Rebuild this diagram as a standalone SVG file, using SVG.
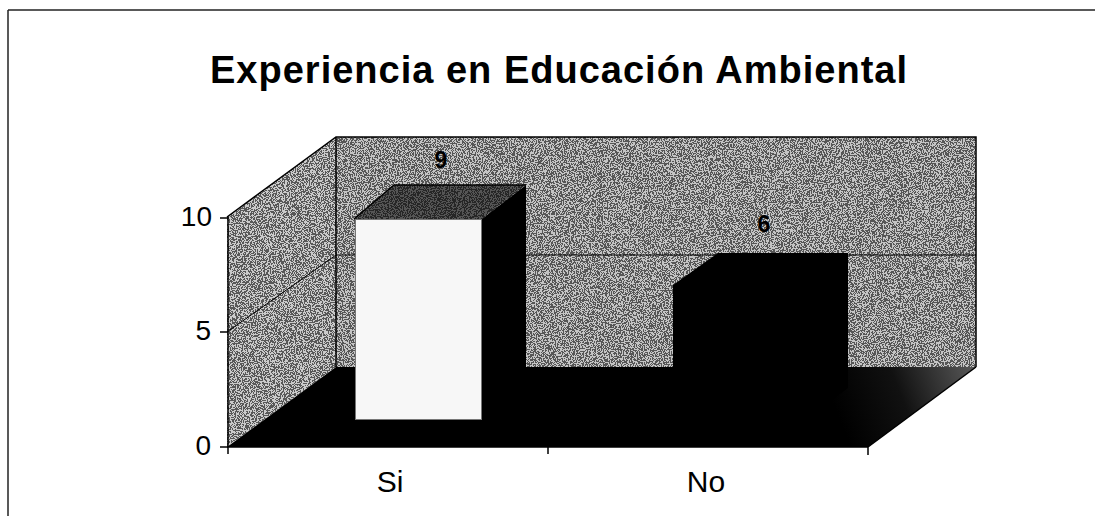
<svg xmlns="http://www.w3.org/2000/svg" width="1095" height="516" viewBox="0 0 1095 516">
  <style>
    .edge { fill: none; stroke: #000; stroke-width: 1.5; }
    .grid { fill: none; stroke: #000; stroke-width: 1; }
    .axis { fill: none; stroke: #000; stroke-width: 1.5; }
    .num { font-family: "Liberation Sans", Arial, sans-serif; font-size: 28px; fill: #000; text-anchor: end; }
    .cat { font-family: "Liberation Sans", Arial, sans-serif; font-size: 30px; fill: #000; text-anchor: middle; }
    .val { font-family: "Liberation Sans", Arial, sans-serif; font-size: 23px; font-weight: bold; fill: #000; text-anchor: middle; }
    .title { font-family: "Liberation Sans", Arial, sans-serif; font-size: 38px; font-weight: bold; fill: #000; }
  </style>
  <defs>
    <filter id="stipple" filterUnits="objectBoundingBox" x="0" y="0" width="1" height="1">
      <feTurbulence type="fractalNoise" baseFrequency="0.85" numOctaves="2" seed="4" result="noise"/>
      <feColorMatrix in="noise" type="matrix" values="0 0 0 0 0  0 0 0 0 0  0 0 0 0 0  1 0 0 0 0" result="a"/>
      <feComponentTransfer in="a" result="dots">
        <feFuncA type="discrete" tableValues="0 0 0 0 0 0.85 0.85 0.85 0.85 0.85"/>
      </feComponentTransfer>
      <feFlood flood-color="#1a1a1a" result="black"/>
      <feComposite in="black" in2="dots" operator="in" result="blk"/>
      <feMerge result="m"><feMergeNode in="SourceGraphic"/><feMergeNode in="blk"/></feMerge>
      <feComposite in="m" in2="SourceAlpha" operator="in"/>
    </filter>
    <filter id="faint" filterUnits="objectBoundingBox" x="0" y="0" width="1" height="1">
      <feTurbulence type="fractalNoise" baseFrequency="0.9" numOctaves="2" seed="2" result="noise"/>
      <feColorMatrix in="noise" type="matrix" values="0 0 0 0 0  0 0 0 0 0  0 0 0 0 0  1 0 0 0 0" result="a"/>
      <feComponentTransfer in="a" result="dots">
        <feFuncA type="discrete" tableValues="0 0 0 0 0 0 0 0 0 0.6"/>
      </feComponentTransfer>
      <feFlood flood-color="#555" result="g"/>
      <feComposite in="g" in2="dots" operator="in" result="gd"/>
      <feMerge result="m"><feMergeNode in="SourceGraphic"/><feMergeNode in="gd"/></feMerge>
      <feComposite in="m" in2="SourceAlpha" operator="in"/>
    </filter>
    <linearGradient id="floorGrad" x1="840" y1="420" x2="976" y2="367" gradientUnits="userSpaceOnUse">
      <stop offset="0" stop-color="#000"/>
      <stop offset="0.45" stop-color="#111"/>
      <stop offset="1" stop-color="#5a5a5a"/>
    </linearGradient>
  </defs>

  <rect x="0" y="0" width="1095" height="516" fill="#fff"/>

  <g id="frame">
    <line x1="8" y1="10" x2="1095" y2="10" stroke="#222" stroke-width="1.5"/>
    <line x1="8" y1="10" x2="8" y2="516" stroke="#222" stroke-width="1.5"/>
  </g>

  <g id="title">
    <text class="title" x="210" y="83" textLength="697" lengthAdjust="spacing">Experiencia en Educación Ambiental</text>
  </g>

  <g id="walls">
    <polygon points="227,217 336,137 336,367 227,447" fill="#cacaca" filter="url(#stipple)"/>
    <polygon points="336,137 976,137 976,367 336,367" fill="#c4c4c4" filter="url(#stipple)"/>
    <polyline class="edge" points="227,217 336,137 976,137 976,367"/>
    <line class="edge" x1="336" y1="137" x2="336" y2="367"/>
    <line class="grid" x1="227" y1="332" x2="336" y2="255"/>
    <line class="grid" x1="336" y1="255" x2="976" y2="255"/>
  </g>

  <g id="floor">
    <polygon points="227,447 336,367 976,367 868,447" fill="url(#floorGrad)"/>
  </g>

  <g id="bar-si">
    <polygon points="482,219 526,185 526,386 482,420" fill="#000"/>
    <polygon points="354,219 394,185 526,185 482,219" fill="#555" filter="url(#stipple)"/>
    <polyline class="edge" points="354,219 394,185 526,185"/>
    <rect x="355" y="219" width="127" height="201" fill="#f7f7f7" filter="url(#faint)"/>
    <rect x="355.5" y="219.5" width="126" height="200" fill="none" stroke="#777" stroke-width="1"/>
  </g>

  <g id="bar-no">
    <polygon points="673,285 718,253 848,253 848,388 804,420 673,420" fill="#000"/>
  </g>

  <g id="axes">
    <line class="axis" x1="228" y1="217" x2="228" y2="454"/>
    <line class="axis" x1="220" y1="218" x2="228" y2="218"/>
    <line class="axis" x1="220" y1="332" x2="228" y2="332"/>
    <line class="axis" x1="220" y1="447" x2="228" y2="447"/>
    <line class="axis" x1="227" y1="447" x2="868" y2="447"/>
    <line class="axis" x1="548" y1="447" x2="548" y2="454"/>
    <line class="axis" x1="868" y1="447" x2="868" y2="455"/>
    <line class="edge" x1="868" y1="447" x2="976" y2="367"/>
  </g>

  <g id="labels">
    <text class="num" x="212" y="226">10</text>
    <text class="num" x="211" y="340">5</text>
    <text class="num" x="211" y="455">0</text>
    <text class="cat" x="390" y="492">Si</text>
    <text class="cat" x="706" y="492">No</text>
    <text class="val" x="441" y="168">9</text>
    <text class="val" x="764" y="232">6</text>
  </g>
</svg>
